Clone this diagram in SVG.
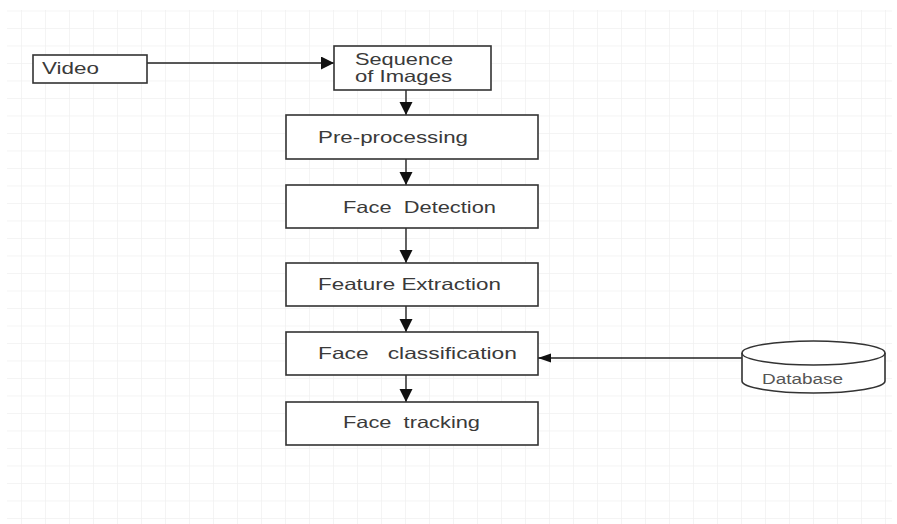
<svg xmlns="http://www.w3.org/2000/svg" width="897" height="524" viewBox="0 0 897 524">
  <defs>
    <pattern id="grid" x="21" y="10.5" width="24" height="17.5" patternUnits="userSpaceOnUse">
      <path d="M0 0V17.5M0 0H24" fill="none" stroke="#f1f1f1" stroke-width="1.6"/>
    </pattern>
    <marker id="arrow" markerUnits="userSpaceOnUse" markerWidth="14" markerHeight="14" refX="13" refY="6.5" orient="auto">
      <path d="M0 0L13 6.5L0 13Z" fill="#111"/>
    </marker>
    <marker id="arrow-small" markerUnits="userSpaceOnUse" markerWidth="14" markerHeight="10" refX="13" refY="4.5" orient="auto">
      <path d="M0 0L13 4.5L0 9Z" fill="#111"/>
    </marker>
  </defs>
  <style>
    .box { fill: #fff; stroke: #333; stroke-width: 1.6; }
    .label { font-family: "Liberation Sans", Arial, sans-serif; font-size: 16.5px; fill: #3a3a3a; }
    .db-label { font-family: "Liberation Sans", Arial, sans-serif; font-size: 14px; fill: #555; }
    .edge { fill: none; stroke: #222; stroke-width: 1.4; }
  </style>

  <rect width="897" height="524" fill="#fff"/>
  <rect x="7" y="10" width="885" height="514" fill="url(#grid)"/>

  <g id="connectors">
    <line class="edge" x1="147" y1="63" x2="334" y2="63" marker-end="url(#arrow)"/>
    <line class="edge" x1="406" y1="90" x2="406" y2="115" marker-end="url(#arrow)"/>
    <line class="edge" x1="406" y1="159" x2="406" y2="185" marker-end="url(#arrow)"/>
    <line class="edge" x1="406" y1="228" x2="406" y2="263" marker-end="url(#arrow)"/>
    <line class="edge" x1="406" y1="306" x2="406" y2="332" marker-end="url(#arrow)"/>
    <line class="edge" x1="406" y1="375" x2="406" y2="402" marker-end="url(#arrow)"/>
    <line class="edge" x1="742" y1="358" x2="538" y2="358" stroke-width="1.2" marker-end="url(#arrow-small)"/>
  </g>

  <g id="video">
    <rect class="box" x="33" y="55" width="114" height="28"/>
    <text class="label" x="42" y="74" textLength="57" lengthAdjust="spacingAndGlyphs">Video</text>
  </g>

  <g id="sequence">
    <rect class="box" x="334" y="46" width="157" height="44"/>
    <text class="label" x="355" y="65" textLength="98" lengthAdjust="spacingAndGlyphs">Sequence</text>
    <text class="label" x="355" y="82" textLength="97" lengthAdjust="spacingAndGlyphs">of Images</text>
  </g>

  <g id="preprocessing">
    <rect class="box" x="286" y="115" width="252" height="44"/>
    <text class="label" x="318" y="143" textLength="150" lengthAdjust="spacingAndGlyphs">Pre-processing</text>
  </g>

  <g id="face-detection">
    <rect class="box" x="286" y="185" width="252" height="43"/>
    <text class="label" x="343" y="213" textLength="153" lengthAdjust="spacingAndGlyphs" xml:space="preserve">Face  Detection</text>
  </g>

  <g id="feature-extraction">
    <rect class="box" x="286" y="263" width="252" height="43"/>
    <text class="label" x="318" y="290" textLength="183" lengthAdjust="spacingAndGlyphs">Feature Extraction</text>
  </g>

  <g id="face-classification">
    <rect class="box" x="286" y="332" width="252" height="43"/>
    <text class="label" x="318" y="359" textLength="199" lengthAdjust="spacingAndGlyphs" xml:space="preserve">Face   classification</text>
  </g>

  <g id="face-tracking">
    <rect class="box" x="286" y="402" width="252" height="43"/>
    <text class="label" x="343" y="428" textLength="137" lengthAdjust="spacingAndGlyphs" xml:space="preserve">Face  tracking</text>
  </g>

  <g id="database">
    <path class="box" d="M742 353 A71.5 12 0 0 1 885 353 V381 A71.5 12 0 0 1 742 381 Z"/>
    <path d="M742 353 A71.5 12 0 0 0 885 353" fill="none" stroke="#333" stroke-width="1.4"/>
    <text class="db-label" x="762" y="384" textLength="81" lengthAdjust="spacingAndGlyphs">Database</text>
  </g>
</svg>
